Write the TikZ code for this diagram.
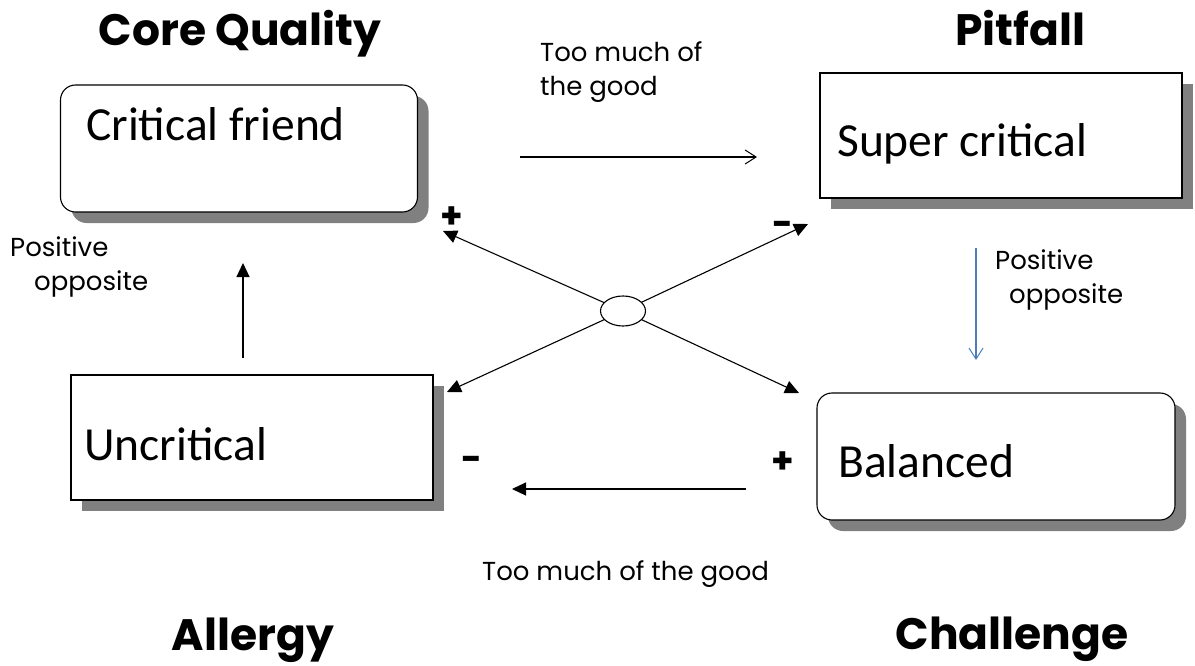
\documentclass[tikz,border=0pt]{standalone}
\usepackage{fontspec}
\setmainfont{Carlito}
\newfontfamily\hand{Poppins}
\usetikzlibrary{arrows.meta,shadows,shapes.geometric}
\definecolor{shade}{HTML}{808080}
\definecolor{pathblue}{HTML}{4A7EBB}

\begin{document}
\begin{tikzpicture}[x=1pt,y=-1pt,
  card/.style={draw=black,line width=1.1pt,fill=white,inner sep=0pt,outer sep=0pt,
    general shadow={fill=shade,shadow xshift=11pt,shadow yshift=-11pt}},
  roundcard/.style={card,rounded corners=15pt},
  squarecard/.style={card},
  cardtext/.style={font=\fontsize{47.5}{52}\selectfont,anchor=base west,inner sep=0pt},
  title/.style={font=\hand\bfseries\fontsize{44}{48}\selectfont,anchor=base,inner sep=0pt},
  note/.style={font=\hand\fontsize{26}{34}\selectfont,anchor=base west,inner sep=0pt,align=left},
  sign/.style={font=\hand\bfseries\fontsize{36}{38}\selectfont,inner sep=0pt},
  solidarrow/.style={line width=1.1pt,-{Triangle[length=14pt,width=13pt]}},
  openarrow/.style={line width=1.1pt,-{Straight Barb[length=11pt,width=14pt,line width=1pt]}}
]
\useasboundingbox (0,0) rectangle (1195,666);

% quadrant headings
\node[title] (hq) at (240,46) {Core Quality};
\node[title] (hp) at (1020,46) {Pitfall};
\node[title] (ha) at (253,650) {Allergy};
\node[title] (hc) at (1012,649) {Challenge};

% the four cards
\node[roundcard,minimum width=357pt,minimum height=127pt] (cf) at (239,148.5) {};
\node[cardtext] (cft) at (86,141) {Critical friend};

\node[squarecard,minimum width=362pt,minimum height=125pt] (sc) at (1001,135.5) {};
\node[cardtext] (sct) at (837,157) {Super critical};

\node[squarecard,minimum width=362pt,minimum height=125pt] (uc) at (252,437.5) {};
\node[cardtext] (uct) at (84,460) {Uncritical};

\node[roundcard,minimum width=358pt,minimum height=127pt] (bl) at (996,456.5) {};
\node[cardtext] (blt) at (838,477) {Balanced};

% horizontal and vertical transitions
\coordinate (topA) at (520,157);
\coordinate (topB) at (757,157);
\draw[openarrow] (topA) -- (topB);
\node[note] (topnote) at (540,96) {Too much of\\the good};

\coordinate (rightA) at (976,248);
\coordinate (rightB) at (976,360);
\draw[openarrow,draw=pathblue,line width=1.2pt] (rightA) -- (rightB);
\node[note] (rightnote) at (995,303) {Positive\\\hspace*{14pt}opposite};

\coordinate (leftA) at (243,358);
\coordinate (leftB) at (243,263);
\draw[solidarrow] (leftA) -- (leftB);
\node[note] (leftnote) at (10,290) {Positive\\\hspace*{24pt}opposite};

\coordinate (botA) at (746,489);
\coordinate (botB) at (512,489);
\draw[solidarrow] (botA) -- (botB);
\node[note] (botnote) at (482,580) {Too much of the good};

% central hub with diagonal arrows
\coordinate (tipUL) at (443,231);
\coordinate (tipUR) at (808,224);
\coordinate (tipLL) at (447,392);
\coordinate (tipLR) at (799,393);
\coordinate (hubc) at (623,311);
\draw[solidarrow] (hubc) -- (tipUL);
\draw[solidarrow] (hubc) -- (tipUR);
\draw[solidarrow] (hubc) -- (tipLL);
\draw[solidarrow] (hubc) -- (tipLR);
\node[ellipse,draw,fill=white,line width=1.1pt,minimum width=45pt,minimum height=30pt,inner sep=0pt] (hub) at (hubc) {};

% polarity signs
\node[sign] (s1) at (452,218) {+};
\node[sign] (s2) at (783,229) {-};
\node[sign] (s3) at (472,464) {-};
\node[sign] (s4) at (783,463) {+};
\end{tikzpicture}
\end{document}
